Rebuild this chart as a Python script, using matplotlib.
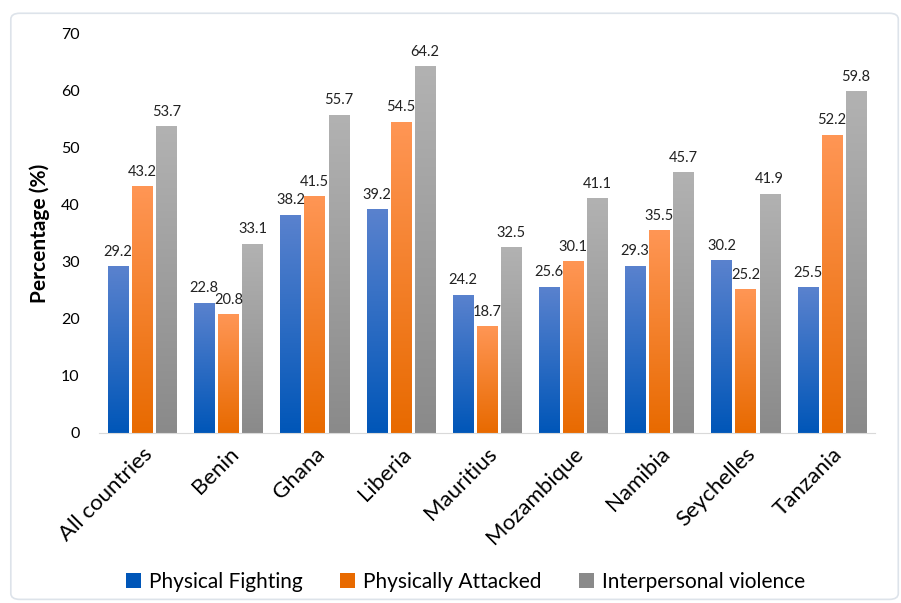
import numpy as np
import matplotlib.pyplot as plt
from matplotlib.colors import LinearSegmentedColormap
from matplotlib.patches import FancyBboxPatch, Patch

plt.rcParams['font.family'] = ['Lato', 'DejaVu Sans']

countries = ['All countries', 'Benin', 'Ghana', 'Liberia', 'Mauritius',
             'Mozambique', 'Namibia', 'Seychelles', 'Tanzania']
fighting = [29.2, 22.8, 38.2, 39.2, 24.2, 25.6, 29.3, 30.2, 25.5]
attacked = [43.2, 20.8, 41.5, 54.5, 18.7, 30.1, 35.5, 25.2, 52.2]
violence = [53.7, 33.1, 55.7, 64.2, 32.5, 41.1, 45.7, 41.9, 59.8]
series_names = ['Physical Fighting', 'Physically Attacked', 'Interpersonal violence']

# (top colour, bottom colour) for each series
grads = [('#5A82CE', '#0056B8'), ('#FF9655', '#E86A00'), ('#B2B2B2', '#8A8A8A')]

fig = plt.figure(figsize=(9.01, 6.03), dpi=100)
ax = fig.add_axes([0.110, 0.282, 0.861, 0.663])

x = np.arange(len(countries))
w = 0.235
step = 0.28

for i, (vals, (top, bot)) in enumerate(zip([fighting, attacked, violence], grads)):
    cmap = LinearSegmentedColormap.from_list('g%d' % i, [bot, top])
    bars = ax.bar(x + (i - 1) * step, vals, w, color='none', edgecolor='none')
    for b, v in zip(bars, vals):
        x0, x1 = b.get_x(), b.get_x() + b.get_width()
        grad = np.linspace(0, 1, 256).reshape(-1, 1)
        im = ax.imshow(grad, cmap=cmap, origin='lower', aspect='auto',
                       extent=[x0, x1, 0, v], zorder=2)
        im.set_clip_path(b)
        ax.text((x0 + x1) / 2, v + 1.3, f'{v:.1f}', ha='center', va='bottom',
                fontsize=10.5, color='#222222')

ax.set_xlim(-0.5, len(countries) - 0.5)
ax.set_ylim(0, 70)
ax.set_yticks(range(0, 71, 10))
ax.set_xticks(x)
ax.set_xticklabels(countries, rotation=45, ha='right', rotation_mode='anchor',
                   fontsize=16)
ax.tick_params(axis='y', length=0, labelsize=11.5, pad=14)
ax.tick_params(axis='x', length=0, pad=8)
for s in ['top', 'right', 'left']:
    ax.spines[s].set_visible(False)
ax.spines['bottom'].set_color('#D9D9D9')
ax.set_ylabel('Percentage (%)', fontsize=15, fontweight='bold', labelpad=8)

handles = [Patch(facecolor=bot, edgecolor='none') for _, bot in grads]
fig.legend(handles, series_names, loc='center', bbox_to_anchor=(0.517, 0.035),
           ncol=3, frameon=False, fontsize=15, handlelength=0.7,
           handleheight=0.7, handletextpad=0.4, columnspacing=1.8)

border = FancyBboxPatch((0.012, 0.006), 0.985, 0.972, boxstyle='round,pad=0,rounding_size=0.01',
                        transform=fig.transFigure, facecolor='none',
                        edgecolor='#DDE3EA', linewidth=1.2)
fig.patches.append(border)

fig.savefig('out.png', dpi=100)
